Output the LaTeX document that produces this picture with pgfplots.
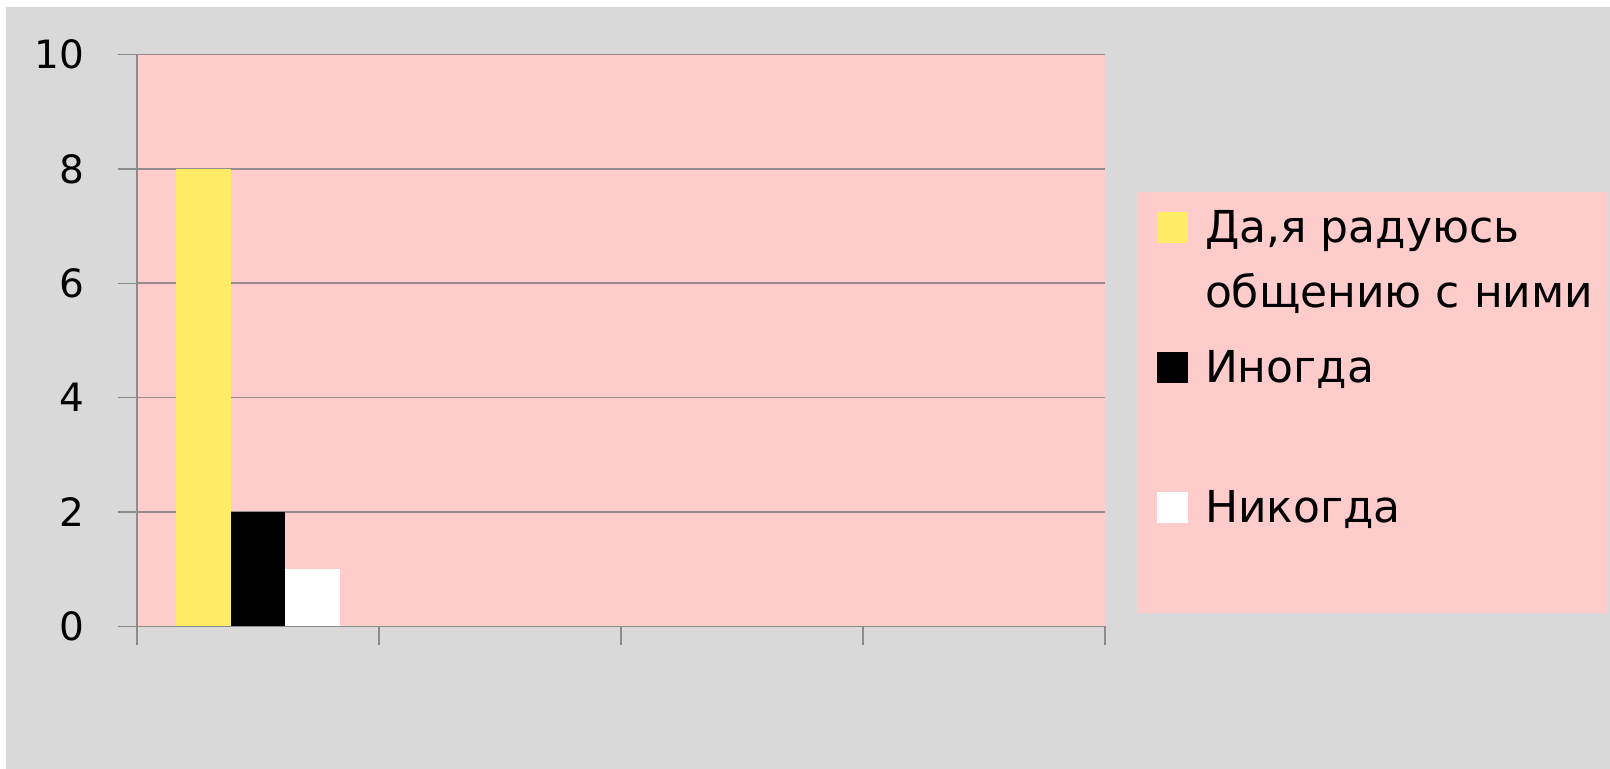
\documentclass[border=0pt]{standalone}
\usepackage{fontspec}
\setmainfont{DejaVu Sans}
\usepackage{pgfplots}
\pgfplotsset{compat=1.18}
\definecolor{bgc}{RGB}{217,217,217}
\definecolor{pinkc}{RGB}{255,204,204}
\definecolor{yellowc}{RGB}{255,236,102}
\definecolor{gridc}{RGB}{150,140,140}
\definecolor{axisc}{RGB}{140,140,140}
\begin{document}
\begin{tikzpicture}
\path[use as bounding box, fill=white] (-68.5pt,-71.25pt) rectangle (736.5pt,313.25pt);
\fill[bgc] (-65.5pt,-71.25pt) rectangle (736.5pt,309.75pt);
\fill[pinkc] (500pt,6.75pt) rectangle (735pt,217pt);
\begin{axis}[
  at={(0pt,0pt)}, anchor=south west,
  scale only axis, width=484pt, height=286pt,
  xmin=-0.5, xmax=3.5, ymin=0, ymax=10,
  ytick={0,2,...,10},
  xtick={-0.5,0.5,1.5,2.5,3.5}, xticklabels={},
  axis x line*=bottom, axis y line*=left,
  axis line style={draw=axisc, line width=0.7pt},
  tick style={draw=axisc, line width=0.7pt},
  tick align=outside, major tick length=9.5pt,
  ymajorgrids, grid style={draw=gridc, line width=0.8pt},
  axis background/.style={fill=pinkc},
  /pgf/number format/assume math mode=true,
  yticklabel style={font=\fontsize{19.5}{19.5}\selectfont, anchor=east, inner sep=0pt, xshift=-16.5pt},
  ybar=0pt, bar width=27.25pt,
  legend style={draw=none, fill=none, inner sep=0pt, outer sep=0pt,
    at={(axis description cs:1.05372,0.74038)}, anchor=north west,
    row sep=0pt,
    font=\fontsize{22}{32.5}\selectfont,
    nodes={inner sep=0pt, outer sep=0pt, text depth=, text height=},
    cells={anchor=base west},
    /tikz/every odd column/.append style={column sep=8.5pt}},
]
\pgfplotsset{sq legend/.style={legend image code/.code={\fill[##1,draw=none] (0pt,0pt) rectangle (15.5pt,15.5pt);}}}
\addplot[fill=yellowc, draw=none, sq legend] coordinates {(0,8)};
\addlegendentry{\parbox[t]{230pt}{\fontsize{22}{32.5}\selectfont\rule{0pt}{20pt}Да,я радуюсь\\общению с ними\rule[-10pt]{0pt}{10pt}}}
\addplot[fill=black, draw=none, sq legend] coordinates {(0,2)};
\addlegendentry{\rule{0pt}{27.5pt}\rule[-40pt]{0pt}{40pt}Иногда}
\addplot[fill=white, draw=none, sq legend] coordinates {(0,1)};
\addlegendentry{\rule{0pt}{30pt}Никогда}
\end{axis}
\end{tikzpicture}
\end{document}
